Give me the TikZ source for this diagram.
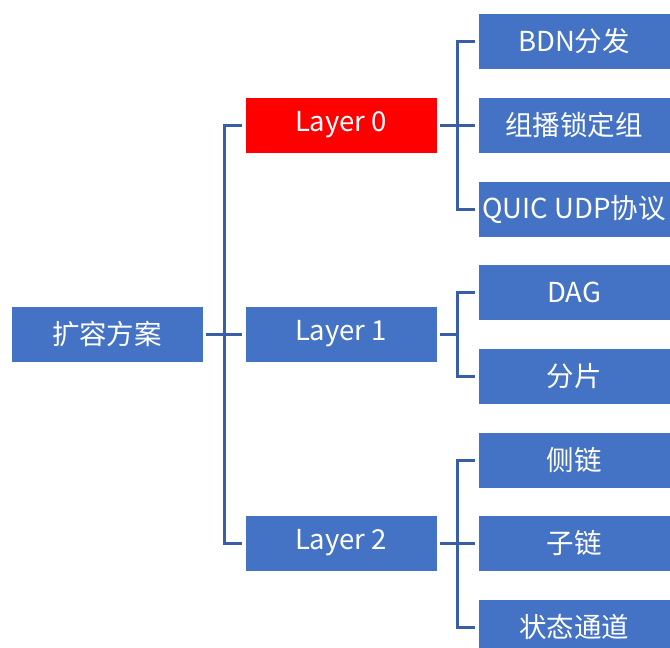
\documentclass[tikz,border=0pt]{standalone}
\usepackage{fontspec}
\setmainfont{Noto Sans CJK SC}
\definecolor{boxblue}{HTML}{4472C4}
\definecolor{lineblue}{HTML}{3A5DA8}
\definecolor{boxred}{HTML}{FF0000}
\begin{document}
\begin{tikzpicture}[x=1pt,y=-1pt,
  box/.style={fill=boxblue,draw=white,line width=0.6pt,minimum width=192pt,minimum height=56pt,inner sep=0pt,text=white,font=\fontsize{27.5}{30}\selectfont},
  redbox/.style={box,fill=boxred},
  conn/.style={draw=lineblue,line width=3pt}]
\useasboundingbox (0,0) rectangle (670,648);
\clip (0,0) rectangle (670,648);
\node[box] (root) at (107,334) {扩容方案};
\node[redbox] (l0) at (341,125) {Layer 0};
\node[box] (l1) at (341,334) {Layer 1};
\node[box] (l2) at (341,543) {Layer 2};
\node[box] (a1) at (574,41) {BDN分发};
\node[box] (a2) at (574,125) {组播锁定组};
\node[box] (a3) at (574,209) {QUIC UDP协议};
\node[box] (b1) at (574,292) {DAG};
\node[box] (b2) at (574,376) {分片};
\node[box] (c1) at (574,460) {侧链};
\node[box] (c2) at (574,543) {子链};
\node[box] (c3) at (574,627) {状态通道};
% root to layers
\draw[conn] ([xshift=3pt]root.east) -- ([xshift=-3pt]l1.west);
\draw[conn] ([xshift=-3pt]l0.west) -| (224,334) |- ([xshift=-3pt]l2.west);
% layer 0
\draw[conn] ([xshift=3pt]l0.east) -- ([xshift=-3pt]a2.west);
\draw[conn] ([xshift=-3pt]a1.west) -| (457,125) |- ([xshift=-3pt]a3.west);
% layer 1
\draw[conn] ([xshift=3pt]l1.east) -- (457,334);
\draw[conn] ([xshift=-3pt]b1.west) -| (457,334) |- ([xshift=-3pt]b2.west);
% layer 2
\draw[conn] ([xshift=3pt]l2.east) -- ([xshift=-3pt]c2.west);
\draw[conn] ([xshift=-3pt]c1.west) -| (457,543) |- ([xshift=-3pt]c3.west);
\end{tikzpicture}
\end{document}
